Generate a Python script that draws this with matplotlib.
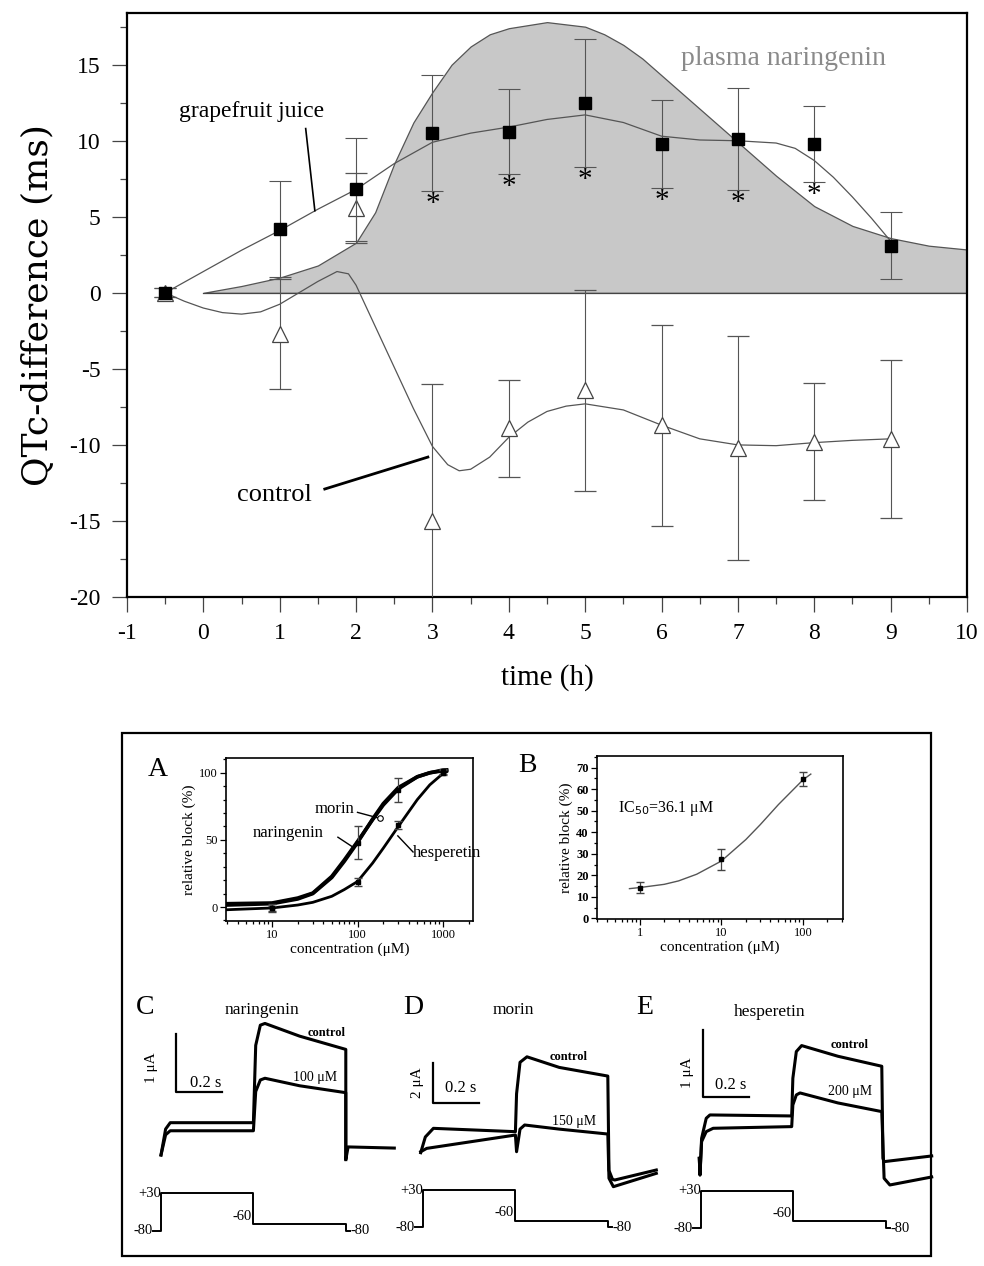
import matplotlib.pyplot as plt
from matplotlib.patches import Rectangle
from matplotlib.ticker import MultipleLocator, NullFormatter

plt.rcParams['font.family'] = ['Liberation Serif', 'DejaVu Serif']
plt.rcParams['axes.unicode_minus'] = False

# ---------------- top chart: QTc difference ----------------
time_h = [-0.5, 1, 2, 3, 4, 5, 6, 7, 8, 9]
gj_mean = [0, 4.2, 6.8, 10.5, 10.6, 12.5, 9.8, 10.1, 9.8, 3.1]
gj_err = [0.3, 3.15, 3.4, 3.8, 2.8, 4.2, 2.9, 3.35, 2.5, 2.2]
ctrl_mean = [0, -2.7, 5.6, -15.0, -8.9, -6.4, -8.7, -10.2, -9.8, -9.6]
ctrl_err = [0.3, 3.6, 2.3, 9.0, 3.2, 6.6, 6.6, 7.35, 3.85, 5.2]
signif_h = [3, 4, 5, 6, 7, 8]

gj_fit_t = [-0.5, 0, 0.5, 1, 1.5, 2, 2.5, 3, 3.5, 4, 4.5, 5, 5.5, 6, 6.5, 7, 7.5, 7.75, 8,
            8.25, 8.5, 8.75, 9]
gj_fit = [0, 1.4, 2.8, 4.1, 5.5, 6.8, 8.5, 9.9, 10.5, 10.9, 11.4, 11.7, 11.2, 10.3, 10.05,
          10.0, 9.85, 9.5, 8.7, 7.6, 6.3, 4.9, 3.4]
ctrl_fit_t = [-0.5, -0.25, 0, 0.25, 0.5, 0.75, 1, 1.25, 1.5, 1.75, 1.9, 2, 2.25, 2.5, 2.75, 3,
              3.2, 3.35, 3.5, 3.75, 4, 4.25, 4.5, 4.75, 5, 5.5, 6, 6.5, 7, 7.5, 8, 8.5, 9]
ctrl_fit = [0, -0.55, -1.0, -1.3, -1.4, -1.25, -0.75, 0.0, 0.75, 1.4, 1.25, 0.5, -2.2, -4.9,
            -7.6, -10.1, -11.3, -11.7, -11.6, -10.8, -9.5, -8.5, -7.8, -7.45, -7.3, -7.7, -8.7,
            -9.6, -10.0, -10.05, -9.85, -9.7, -9.6]
plasma_t = [0, 0.5, 1, 1.5, 2, 2.25, 2.5, 2.75, 3, 3.25, 3.5, 3.75, 4, 4.5, 5, 5.25, 5.5, 5.75,
            6, 6.5, 7, 7.5, 8, 8.5, 9, 9.5, 10]
plasma = [0, 0.45, 1.0, 1.8, 3.3, 5.3, 8.5, 11.2, 13.2, 15.0, 16.2, 17.0, 17.4, 17.8, 17.5,
          17.0, 16.3, 15.4, 14.3, 12.1, 9.9, 7.7, 5.7, 4.4, 3.6, 3.1, 2.85]

# ---------------- panel A / B: concentration response ----------------
conc_a = [10, 100, 300, 1000]
nar_block = [-1, 48, 87, 101]
nar_err = [3, 12, 9, 2]
hes_block = [-1, 18.5, 61, 100]
hes_err = [2, 3, 3, 2]
fit_conc_a = [3, 10, 20, 30, 50, 70, 100, 150, 200, 300, 500, 700, 1000, 1100]
nar_fit = [2.5, 3, 6.7, 10.4, 22.8, 35, 48.8, 65, 76, 88, 97, 100, 102, 102]
mor_fit = [1.5, 2.5, 6, 10, 22, 34, 48, 65.5, 77, 89, 97, 100, 101.5, 102]
hes_fit = [-2, -0.7, 1.5, 3.5, 8, 13, 19, 32.7, 43.8, 60, 80, 91, 99.5, 100.7]

conc_b = [1, 10, 100]
block_b = [14.3, 27.4, 64.6]
err_b = [2.5, 5, 3.3]
fit_conc_b = [0.75, 1, 2, 3, 5, 10, 20, 30, 50, 100, 125]
fit_b = [13.8, 14.3, 15.8, 17.4, 20.5, 26.6, 36.6, 43.5, 52.8, 64.3, 67]

# ---------------- panels C-E: current traces (s, uA) ----------------
c_ctrl_t = [0, 0.02, 0.04, 0.40, 0.41, 0.43, 0.45, 0.6, 0.8, 0.8, 0.81, 1.01]
c_ctrl_i = [0, 0.45, 0.56, 0.56, 1.9, 2.25, 2.28, 2.06, 1.83, -0.08, 0.14, 0.12]
c_drug_t = [0, 0.02, 0.04, 0.40, 0.41, 0.43, 0.45, 0.6, 0.8, 0.8]
c_drug_i = [0, 0.35, 0.42, 0.42, 1.1, 1.3, 1.33, 1.2, 1.08, -0.08]

d_ctrl_t = [0, 0.02, 0.055, 0.41, 0.415, 0.43, 0.46, 0.6, 0.81, 0.815, 0.83, 0.84, 1.02]
d_ctrl_i = [0, 0.8, 1.24, 1.07, 3.0, 4.6, 4.88, 4.34, 3.9, -0.9, -1.35, -1.39, -0.88]
d_drug_t = [0, 0.026, 0.41, 0.415, 0.43, 0.45, 0.6, 0.81, 0.815, 0.834, 1.02]
d_drug_i = [0.05, 0.22, 0.9, 0.05, 1.2, 1.41, 1.2, 0.95, -1.3, -1.73, -1.05]

e_ctrl_t = [0, 0.003, 0.01, 0.03, 0.046, 0.40, 0.405, 0.42, 0.443, 0.6, 0.79, 0.795, 0.80, 1.006]
e_ctrl_i = [0, -0.25, 0.3, 0.6, 0.65, 0.635, 1.2, 1.6, 1.69, 1.53, 1.38, 0.0, -0.05, 0.035]
e_drug_t = [0, 0.003, 0.01, 0.03, 0.06, 0.40, 0.405, 0.42, 0.436, 0.6, 0.79, 0.80, 0.825, 1.006]
e_drug_i = [0, -0.25, 0.25, 0.4, 0.45, 0.475, 0.8, 0.95, 0.98, 0.83, 0.70, -0.3, -0.4, -0.28]

# voltage protocol (s, mV)
prot_t = [-0.035, 0, 0.4, 0.8, 0.82]
prot_v = [-80, 30, -60, -80, -80]

W, H = 984, 1266
fig = plt.figure(figsize=(W / 100, H / 100), dpi=100)


def px_axes(x0, y0, x1, y1):
    # axes placed by pixel box of the 984x1266 image
    return fig.add_axes([x0 / W, 1 - y1 / H, (x1 - x0) / W, (y1 - y0) / H])


def ftext(x, y, s, **kw):
    fig.text(x / W, 1 - y / H, s, **kw)


# ================= top chart =================
ax = px_axes(127, 13, 967, 597)
ax.fill_between(plasma_t, plasma, 0, color='#c8c8c8', edgecolor='#555555', lw=0.9, zorder=1)
ax.plot(gj_fit_t, gj_fit, color='#555555', lw=0.9, zorder=2)
ax.plot(ctrl_fit_t, ctrl_fit, color='#555555', lw=0.9, zorder=2)
ax.axhline(0, xmin=1 / 11, color='#444444', lw=0.9, zorder=1)

ax.errorbar(time_h, ctrl_mean, yerr=ctrl_err, fmt='^', ms=11, mfc='white', mec='#444444',
            mew=0.9, ecolor='#555555', elinewidth=0.8, capsize=8, capthick=0.8, zorder=3)
ax.errorbar(time_h, gj_mean, yerr=gj_err, fmt='s', ms=9, mfc='black', mec='black',
            ecolor='#555555', elinewidth=0.8, capsize=8, capthick=0.8, zorder=4)

for h in signif_h:
    i = time_h.index(h)
    ax.text(h, gj_mean[i] - gj_err[i] - 0.85, '*', fontsize=21, ha='center', va='center')

ax.text(-0.32, 11.9, 'grapefruit juice', fontsize=17, ha='left', va='center')
ax.plot([1.34, 1.46], [10.8, 5.4], color='black', lw=1.2)
ax.text(0.44, -13.3, 'control', fontsize=19, ha='left', va='center')
ax.plot([1.59, 2.94], [-12.9, -10.8], color='black', lw=2)
ax.text(6.26, 15.4, 'plasma naringenin', fontsize=20, color='#8a8a8a', ha='left', va='center')

ax.set_xlim(-1, 10)
ax.set_ylim(-20, 18.4)
ax.set_xticks(range(-1, 11))
ax.xaxis.set_minor_locator(MultipleLocator(0.5))
ax.set_yticks(range(-20, 16, 5))
ax.yaxis.set_minor_locator(MultipleLocator(2.5))
ax.tick_params(which='major', direction='out', length=11, width=0.9, color='#444444',
               labelsize=17, pad=8)
ax.tick_params(which='minor', direction='out', length=5, width=0.9, color='#444444')
for s in ax.spines.values():
    s.set_linewidth(1.6)
ax.set_xlabel('time (h)', fontsize=21, labelpad=14)
ax.set_ylabel('QTc-difference (ms)', fontsize=26, family='DejaVu Serif', labelpad=10)

# ================= bottom box =================
fig.patches.append(Rectangle((122 / W, 1 - 1256 / H), (931 - 122) / W, (1256 - 733) / H,
                             transform=fig.transFigure, fill=False, lw=1.6, color='black'))

# ---- panel A ----
axa = px_axes(226, 758, 473, 921)
axa.set_xscale('log')
axa.plot(fit_conc_a, hes_fit, color='black', lw=2)
axa.plot(fit_conc_a, mor_fit, color='black', lw=2.6)
axa.plot(fit_conc_a, nar_fit, color='black', lw=2.6)
axa.errorbar(conc_a, nar_block, yerr=nar_err, fmt='s', ms=3, color='black', ecolor='#444444',
             elinewidth=0.9, capsize=3)
axa.errorbar(conc_a, hes_block, yerr=hes_err, fmt='s', ms=3, color='black', ecolor='#444444',
             elinewidth=0.9, capsize=3)
axa.set_xlim(2.9, 2240)
axa.set_ylim(-10.4, 111)
axa.set_xticks([10, 100, 1000])
axa.set_xticklabels(['10', '100', '1000'])
axa.xaxis.set_minor_formatter(NullFormatter())
axa.set_yticks([0, 50, 100])
axa.yaxis.set_minor_locator(MultipleLocator(10))
axa.tick_params(which='both', direction='out', labelsize=9, width=0.9)
axa.tick_params(which='major', length=4, pad=2)
axa.tick_params(which='minor', length=2)
for s in axa.spines.values():
    s.set_linewidth(1.2)
axa.set_xlabel('concentration (\u03bcM)', fontsize=11, labelpad=1)
axa.set_ylabel('relative block (%)', fontsize=11, labelpad=2)
axa.text(31.8, 72.8, 'morin', fontsize=12, ha='left', va='center')
axa.plot([100, 183], [70.5, 66], color='black', lw=1)
axa.plot(183, 66, marker='o', ms=4, mfc='white', mec='black', mew=0.8)
axa.text(6, 55, 'naringenin', fontsize=12, ha='left', va='center')
axa.plot([59, 89], [52, 44.5], color='black', lw=1)
axa.text(446, 40, 'hesperetin', fontsize=12, ha='left', va='center', clip_on=False)
axa.plot([296, 446], [53, 41], color='black', lw=1)
ftext(158, 770, 'A', fontsize=20, ha='center', va='center')

# ---- panel B ----
axb = px_axes(597, 756, 843, 919)
axb.set_xscale('log')
axb.plot(fit_conc_b, fit_b, color='#555555', lw=1)
axb.errorbar(conc_b, block_b, yerr=err_b, fmt='s', ms=3.5, color='black', ecolor='#444444',
             elinewidth=0.9, capsize=3)
axb.set_xlim(0.30, 310)
axb.set_ylim(-0.3, 75.4)
axb.set_xticks([1, 10, 100])
axb.set_xticklabels(['1', '10', '100'])
axb.xaxis.set_minor_formatter(NullFormatter())
axb.set_yticks(range(0, 71, 10))
axb.yaxis.set_minor_locator(MultipleLocator(5))
axb.tick_params(which='both', direction='out', labelsize=9, width=0.9)
axb.tick_params(which='major', length=4, pad=2)
axb.tick_params(which='minor', length=2)
for lab in axb.get_yticklabels():
    lab.set_fontweight('bold')
for s in axb.spines.values():
    s.set_linewidth(1.2)
axb.set_xlabel('concentration (\u03bcM)', fontsize=11, labelpad=1)
axb.set_ylabel('relative block (%)', fontsize=11, labelpad=2)
axb.text(0.54, 51, 'IC$_{50}$=36.1 \u03bcM', fontsize=11.5, ha='left', va='center')
ftext(527, 765, 'B', fontsize=20, ha='center', va='center')

# ---- panels C, D, E ----
PX_PER_S = 231
PX_PER_MV = 0.34


def trace_axes(ox, oy, sy, x0, y0, x1, y1):
    a = px_axes(x0, y0, x1, y1)
    a.set_xlim((x0 - ox) / PX_PER_S, (x1 - ox) / PX_PER_S)
    a.set_ylim((oy - y1) / sy, (oy - y0) / sy)
    a.axis('off')
    return a


panels = [
    # letter, title, drug label, ox, oy, px/uA, bar uA, protocol ox, y(+30), traces
    ('C', 'naringenin', '100 \u03bcM', 161, 1155, 57.7, 1, 161, 1193.3,
     c_ctrl_t, c_ctrl_i, c_drug_t, c_drug_i),
    ('D', 'morin', '150 \u03bcM', 420.7, 1152.7, 19.65, 2, 423, 1190,
     d_ctrl_t, d_ctrl_i, d_drug_t, d_drug_i),
    ('E', 'hesperetin', '200 \u03bcM', 699.3, 1158.3, 66.7, 1, 700.7, 1190.7,
     e_ctrl_t, e_ctrl_i, e_drug_t, e_drug_i),
]
bar_corner = {'C': (176, 1091.7), 'D': (432.7, 1102.7), 'E': (703.3, 1096.7)}
txt_pos = {
    'C': dict(letter=(145, 1008), title=(262, 1010), ctrl=(327, 1033), drug=(315, 1077),
              ua=(152, 1068), s=(206, 1083)),
    'D': dict(letter=(413, 1008), title=(513, 1010), ctrl=(569, 1057), drug=(574, 1122),
              ua=(417, 1083), s=(461, 1088)),
    'E': dict(letter=(645, 1008), title=(770, 1012), ctrl=(850, 1045), drug=(850, 1092),
              ua=(687, 1073), s=(731, 1085)),
}

for (letter, title, dlab, ox, oy, sy, bar_ua, pox, p30,
     ct, ci, dt, di) in panels:
    a = trace_axes(ox, oy, sy, ox - 40, 990, ox + 250, 1200)
    a.plot(ct, ci, color='black', lw=2.2, solid_joinstyle='round', clip_on=False)
    a.plot(dt, di, color='black', lw=2.2, solid_joinstyle='round', clip_on=False)
    # scale bars
    bx, by = bar_corner[letter]
    t0 = (bx - ox) / PX_PER_S
    i0 = (oy - by) / sy
    a.plot([t0, t0, t0 + 0.2], [i0 + bar_ua, i0, i0], color='black', lw=1.6)

    # protocol
    p = px_axes(pox - 40, 1175, pox + 250, 1250)
    p.set_xlim(-40 / PX_PER_S, 250 / PX_PER_S)
    p.set_ylim(30 - (1250 - p30) / PX_PER_MV, 30 + (p30 - 1175) / PX_PER_MV)
    p.axis('off')
    p.step(prot_t, prot_v, where='post', color='black', lw=1.4)
    p.text(prot_t[0], prot_v[0], '-80', fontsize=10.5, ha='right', va='center')
    p.text(prot_t[1], prot_v[1], '+30', fontsize=10.5, ha='right', va='center')
    p.text(prot_t[2] - 0.005, prot_v[2] + 4, '-60', fontsize=10.5, ha='right', va='bottom')
    p.text(prot_t[-1], prot_v[-1], '-80', fontsize=10.5, ha='left', va='center')

    tp = txt_pos[letter]
    ftext(*tp['letter'], letter, fontsize=20, ha='center', va='center')
    ftext(*tp['title'], title, fontsize=12.5, ha='center', va='center')
    ftext(*tp['ctrl'], 'control', fontsize=9, fontweight='bold', ha='center', va='center')
    ftext(*tp['drug'], dlab, fontsize=10, ha='center', va='center')
    ftext(*tp['ua'], '%d \u03bcA' % bar_ua, fontsize=11, rotation=90, ha='center', va='center')
    ftext(*tp['s'], '0.2 s', fontsize=12, ha='center', va='center')

fig.savefig('out.png', dpi=100)
